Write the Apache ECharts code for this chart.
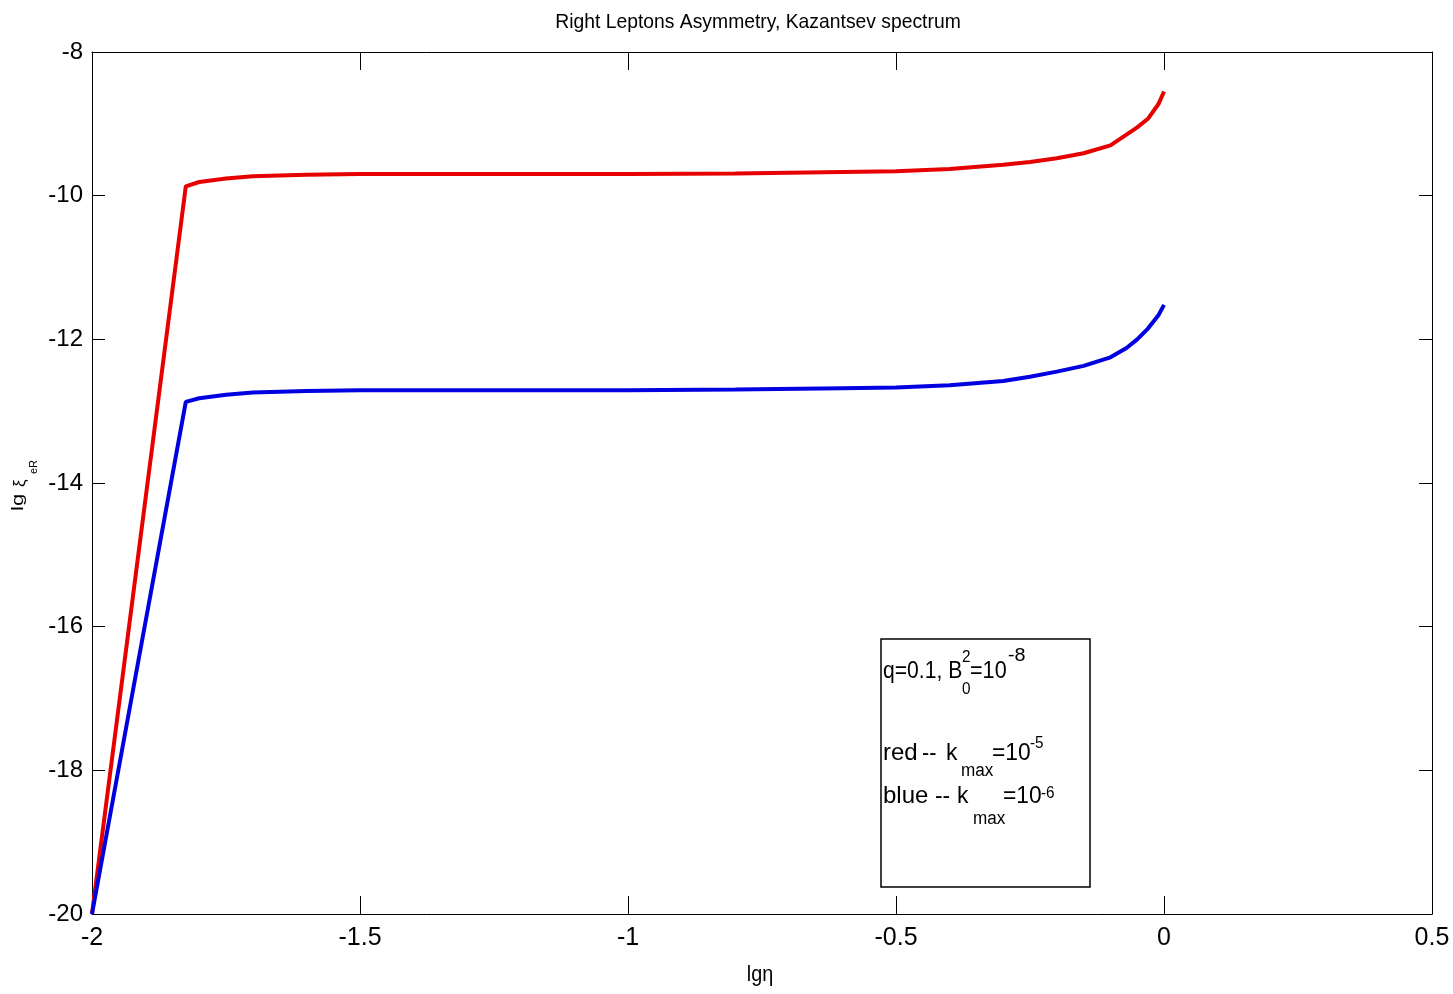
<!DOCTYPE html>
<html>
<head>
<meta charset="utf-8">
<title>Right Leptons Asymmetry, Kazantsev spectrum</title>
<script src="https://cdn.jsdelivr.net/npm/echarts@6/dist/echarts.min.js"></script>
<style>
  html, body { margin: 0; padding: 0; background: #fff; }
  #chart { width: 1453px; height: 994px; }
</style>
</head>
<body>
<div id="chart"></div>
<script>
// lg(eta) sample points and lg(xi_eR) for the two k_max cases
const lgEta = [-2, -1.825, -1.8, -1.75, -1.7, -1.6, -1.5, -1.2, -1.0, -0.8, -0.6, -0.5,
               -0.4, -0.3, -0.25, -0.2, -0.15, -0.1, -0.07, -0.05, -0.03, -0.01, 0];
const redKmax5 = [-20, -9.87, -9.81, -9.76, -9.73, -9.71, -9.70, -9.70, -9.70, -9.69, -9.67, -9.66,
                  -9.63, -9.57, -9.53, -9.48, -9.41, -9.30, -9.15, -9.05, -8.93, -8.72, -8.55];
const blueKmax6 = [-20, -12.87, -12.82, -12.77, -12.74, -12.72, -12.71, -12.71, -12.71, -12.70, -12.68, -12.67,
                   -12.64, -12.58, -12.52, -12.45, -12.37, -12.25, -12.12, -12.00, -11.85, -11.66, -11.52];

const xTicks = { min: -2, max: 0.5, interval: 0.5 };
const yTicks = { min: -20, max: -8, interval: 2 };

const chartTitle = 'Right Leptons Asymmetry, Kazantsev spectrum';
const xName = 'lgη';

const FONT = "'Liberation Sans', Arial, sans-serif";

function pairs(xs, ys) { return xs.map((x, i) => [x, ys[i]]); }

const chart = echarts.init(document.getElementById('chart'), null, { renderer: 'canvas' });

const baseAxisLine = { show: true, onZero: false, lineStyle: { color: '#000', width: 1 } };

function xAx(pos, showLabels) {
  return {
    type: 'value', position: pos,
    min: xTicks.min, max: xTicks.max, interval: xTicks.interval,
    axisLine: baseAxisLine,
    axisTick: { show: true, inside: true, length: 18, lineStyle: { color: '#000', width: 1 } },
    axisLabel: { show: showLabels, color: '#000', fontFamily: FONT, fontSize: 25, margin: 12 },
    splitLine: { show: false }
  };
}
function yAx(pos, showLabels) {
  return {
    type: 'value', position: pos,
    min: yTicks.min, max: yTicks.max, interval: yTicks.interval,
    axisLine: baseAxisLine,
    axisTick: { show: true, inside: true, length: 13, lineStyle: { color: '#000', width: 1 } },
    axisLabel: { show: showLabels, color: '#000', fontFamily: FONT, fontSize: 24, margin: 9 },
    splitLine: { show: false }
  };
}

// plain text element; (x, y) = left edge, vertical middle
function txt(x, y, text, size, sx) {
  return {
    type: 'text', x: x, y: y, z: 20, scaleX: sx || 0.9,
    style: { text: text, fill: '#000', font: size + 'px ' + FONT, align: 'left', verticalAlign: 'middle' }
  };
}

const option = {
  backgroundColor: '#fff',
  animation: false,
  grid: { left: 92, top: 52, right: 21, bottom: 80, containLabel: false },
  xAxis: [xAx('bottom', true), xAx('top', false)],
  yAxis: [yAx('left', true), yAx('right', false)],
  series: [
    {
      name: 'red -- kmax=1e-5', type: 'line', xAxisIndex: 0, yAxisIndex: 0,
      data: pairs(lgEta, redKmax5), showSymbol: false, smooth: false,
      lineStyle: { color: '#e60000', width: 4 }, z: 3
    },
    {
      name: 'blue -- kmax=1e-6', type: 'line', xAxisIndex: 0, yAxisIndex: 0,
      data: pairs(lgEta, blueKmax6), showSymbol: false, smooth: false,
      lineStyle: { color: '#0000e0', width: 4 }, z: 3
    }
  ],
  graphic: [
    // title
    {
      type: 'text', x: 758, y: 22, z: 20, scaleX: 0.92,
      style: { text: chartTitle, fill: '#000', font: '21px ' + FONT, align: 'center', verticalAlign: 'middle' }
    },
    // x-axis name
    {
      type: 'text', x: 760, y: 975, z: 20, scaleX: 0.9,
      style: { text: xName, fill: '#000', font: '22px ' + FONT, align: 'center', verticalAlign: 'middle' }
    },
    // y-axis name, rotated to read bottom-to-top
    {
      type: 'group', x: 10, y: 485, rotation: Math.PI / 2,
      children: [
        { type: 'text', x: -26, y: 0, z: 20, scaleX: 1.3, style: { text: 'lg', fill: '#000', font: '17px ' + FONT, verticalAlign: 'top' } },
        { type: 'text', x: -2, y: 2, z: 20, style: { text: 'ξ', fill: '#000', font: '17px ' + FONT, verticalAlign: 'top' } },
        { type: 'text', x: 11, y: 18, z: 20, style: { text: 'eR', fill: '#000', font: '11px ' + FONT, verticalAlign: 'top' } }
      ]
    },
    // annotation box
    {
      type: 'rect', z: 15, shape: { x: 881, y: 639, width: 209, height: 248 },
      style: { fill: '#fff', stroke: '#000', lineWidth: 1.5 }
    },
    txt(883, 671, 'q=0.1, B', 24, 0.88),
    txt(962, 657, '2', 17),
    txt(962, 689, '0', 17),
    txt(970, 671, '=10', 24),
    txt(1008, 656, '-8', 18, 1.1),

    txt(883, 753, 'red', 24, 1.0),
    txt(922, 753, '--', 24, 0.9),
    txt(946, 753, 'k', 24, 0.95),
    txt(961, 771, 'max', 18, 0.95),
    txt(992, 753, '=10', 24, 0.95),
    txt(1030, 743, '-5', 17, 0.9),

    txt(883, 796, 'blue', 24, 1.0),
    txt(935, 796, '--', 24, 0.95),
    txt(957, 796, 'k', 24, 0.95),
    txt(973, 819, 'max', 18, 0.95),
    txt(1003, 796, '=10', 24, 0.95),
    txt(1041, 793, '-6', 17, 0.9)
  ]
};

chart.setOption(option);
</script>
</body>
</html>
